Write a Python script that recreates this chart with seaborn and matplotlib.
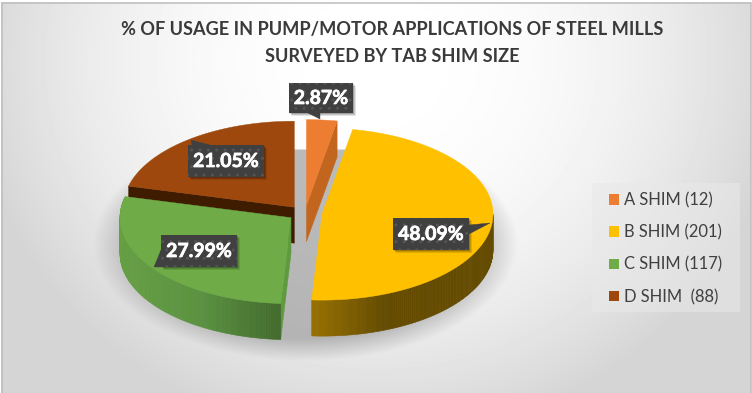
import numpy as np
import matplotlib
matplotlib.use("Agg")
import matplotlib.pyplot as plt
import matplotlib.patheffects as pe
from matplotlib.patches import Polygon, Rectangle, Patch
import seaborn as sns

# ---- data ----
categories = ["A SHIM (12)", "B SHIM (201)", "C SHIM (117)", "D SHIM  (88)"]
counts = [12, 201, 117, 88]
title_lines = ["% OF USAGE IN PUMP/MOTOR APPLICATIONS OF STEEL MILLS", "SURVEYED BY TAB SHIM SIZE"]

# ---- style ----
sns.set_theme(style="white")
plt.rcParams["font.family"] = ["Lato", "DejaVu Sans"]
top_cols = sns.color_palette(["#ed7d31", "#ffc000", "#6fac48", "#9e480e"])
radial_cols = ["#c2661f", None, "#5f9a3e", "#3f1c00"]
wall_cols = {1: ("#644b00", "#644b00", "#977100"), 2: ("#659f42", "#5a9240", "#426a2c")}
W, H = 752, 393
RX, RY, THICK = 171, 86, 36
CX, CY, EXPL, EXPL_Y = 304.9, 213.2, 17.2, 7.6
label_boxes = [(289, 83, 64, 30), (393, 218, 76, 32), (161, 235, 76, 32), (188, 145, 76, 32)]
label_tips = [((308, 113), (320, 113), (320, 119)), ((469, 225), (469, 234), (490, 223)),
              ((161, 250), (161, 267), (154, 267)), ((210, 145), (192, 145), (191, 140))]

fig = plt.figure(figsize=(W / 100, H / 100), dpi=100)
ax = fig.add_axes([0, 0, 1, 1])
ax.set_xlim(0, W)
ax.set_ylim(H, 0)
ax.axis("off")

# background + soft shadow
yy, xx = np.mgrid[0:H, 0:W]
rb = np.hypot((xx - 376) / 370, (yy - 60) / 345)
bg = 1 - 0.135 * np.clip(rb, 0, 1.1) ** 2.2
bg[:2, :] = 1
bg[:, :1] = 1
bg[:, 751:] = 1
ax.imshow(bg, cmap="gray", vmin=0, vmax=1, extent=(0, W, H, 0), aspect="auto", zorder=0)
rs = np.hypot((xx - 305) / 202, (yy - 243) / 112)
al = np.clip((1.05 - rs) / 0.2, 0, 1) * np.clip((yy - 148.5) / 1.0, 0, 1)
shadow = np.zeros((H, W, 4))
shadow[..., :3] = 0.6
shadow[..., 3] = al * 0.66
ax.imshow(shadow, extent=(0, W, H, 0), aspect="auto", zorder=1)
ax.set_xlim(0, W)
ax.set_ylim(H, 0)

total = sum(counts)
edges = np.concatenate([[0], np.cumsum(counts)]) / total * 360


def pt(c, ang):
    t = np.radians(ang)
    return np.column_stack([c[0] + RX * np.sin(t), c[1] - RY * np.cos(t)])


def blend(a, b, f):
    a, b = np.array(matplotlib.colors.to_rgb(a)), np.array(matplotlib.colors.to_rgb(b))
    return a + (b - a) * f


def slice_center(i):
    m = np.radians((edges[i] + edges[i + 1]) / 2)
    return CX + EXPL * np.sin(m), CY - EXPL_Y * np.cos(m)


def radial_face(c, ang, col, z):
    p = pt(c, ang)[0]
    ax.add_patch(Polygon([c, p, (p[0], p[1] + THICK), (c[0], c[1] + THICK)], closed=True,
                         fc=col, ec=col, lw=0.3, zorder=z))


def wall(i, c, a0, a1, z):
    cols = wall_cols[i]
    angs = np.linspace(a0, a1, 121)
    P = pt(c, angs)
    xs = P[:, 0]
    lo, hi = xs.min(), xs.max()
    for k in range(len(angs) - 1):
        f = 1 - (0.5 * (xs[k] + xs[k + 1]) - lo) / (hi - lo)
        if i == 1:
            col = blend(cols[0], cols[2], np.clip((f - 0.6) / 0.4, 0, 1))
        else:
            f = 1 - f
            col = blend(cols[0], cols[1], f / 0.5) if f < 0.5 else blend(cols[1], cols[2], (f - 0.5) / 0.5)
        q = [P[k], P[k + 1], P[k + 1] + (0, THICK), P[k] + (0, THICK)]
        ax.add_patch(Polygon(q, closed=True, fc=col, ec=col, lw=0.4, zorder=z))


def top(i, c, z):
    P = pt(c, np.linspace(edges[i], edges[i + 1], 200))
    ax.add_patch(Polygon(np.vstack([[c], P]), closed=True, fc=top_cols[i], ec=top_cols[i],
                         lw=0.3, zorder=z))


c = [slice_center(i) for i in range(4)]
radial_face(c[3], edges[3], radial_cols[3], 2)
top(3, c[3], 3)
radial_face(c[0], edges[1], radial_cols[0], 2)
top(0, c[0], 3)
radial_face(c[2], edges[2], radial_cols[2], 4)
wall(2, c[2], edges[2], edges[3], 4)
top(2, c[2], 5)
wall(1, c[1], 90, edges[2], 4)
top(1, c[1], 5)

# data labels
for i, (x, y, w, h) in enumerate(label_boxes):
    for off, a in ((3, 0.10), (2, 0.14), (1, 0.18)):
        ax.add_patch(Rectangle((x + off, y + off), w, h, fc="black", alpha=a, lw=0, zorder=6))
    ax.add_patch(Polygon(label_tips[i], closed=True, fc="#404040", ec="#404040", lw=0.3, zorder=7))
    ax.add_patch(Rectangle((x, y), w, h, fc="#404040", ec="#545454", hatch="..", lw=0, zorder=7))
    ax.text(x + w / 2, y + h / 2 + 0.5, f"{counts[i] / total * 100:.2f}%", color="white",
            fontsize=14, fontweight="bold", ha="center", va="center", zorder=8,
            path_effects=[pe.withStroke(linewidth=0.5, foreground="white")])

# title
for yt, line in zip((30, 57), title_lines):
    ax.text(392, yt, line, color="#3a3a3a", fontsize=13.05, fontweight="bold",
            ha="center", va="center", zorder=8)

# legend
ax.add_patch(Rectangle((592, 183), 148, 129, fc="#e9e9e9", alpha=0.55, lw=0, zorder=2))
handles = [Patch(fc=top_cols[i], ec="none", label=categories[i]) for i in range(4)]
leg = ax.legend(handles=handles, loc="upper left", bbox_to_anchor=(598, 181),
                bbox_transform=ax.transData, frameon=False, fontsize=11.9,
                labelcolor="#404040", handlelength=0.61, handleheight=0.61, handletextpad=0.3,
                labelspacing=0.98, borderpad=0.66, borderaxespad=0)
leg.set_zorder(8)

# outer border (top, left, right)
ax.plot([1.5, 1.5, 750.5, 750.5], [H, 2.5, 2.5, H], color="#bdbdbd", lw=1.1, zorder=9,
        solid_joinstyle="miter")

fig.savefig("out.png", dpi=100)
